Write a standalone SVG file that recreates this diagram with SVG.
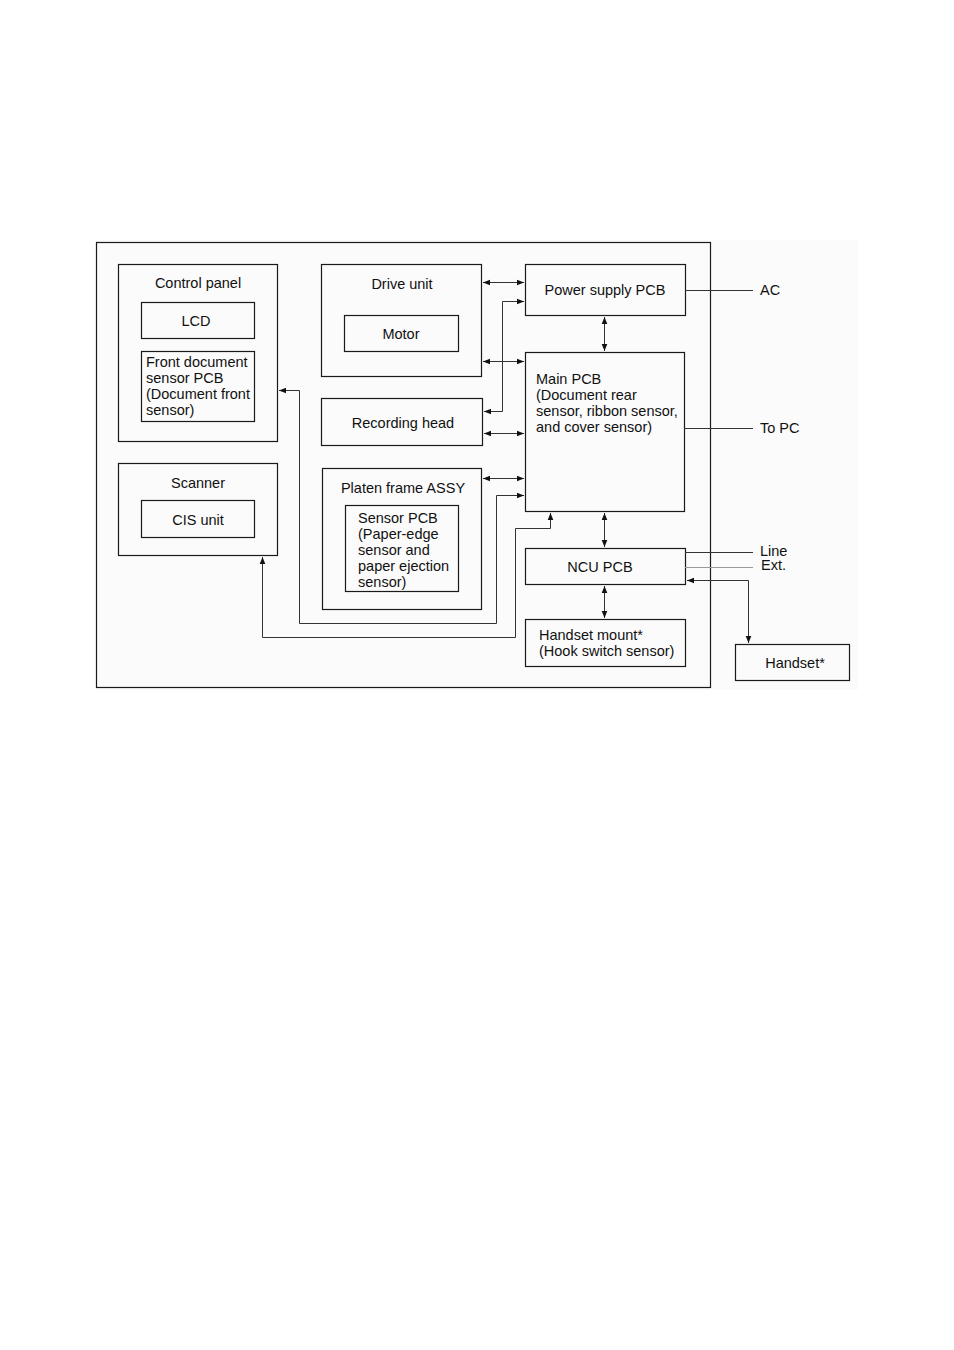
<svg xmlns="http://www.w3.org/2000/svg" width="954" height="1350" viewBox="0 0 954 1350">
<defs>
<marker id="ah" viewBox="0 0 10 10" refX="10" refY="5" markerWidth="7" markerHeight="7" markerUnits="userSpaceOnUse" orient="auto-start-reverse">
<path d="M0,1 L10,5 L0,9 Z" fill="#111"/>
</marker>
</defs>
<style>
.box{fill:none;stroke:#1a1a1a;stroke-width:1.2}
.ln{fill:none;stroke:#333;stroke-width:1}
.lg{fill:none;stroke:#999;stroke-width:1.2}
text{font-family:"Liberation Sans",Arial,sans-serif;font-size:14.5px;fill:#111}
.c{text-anchor:middle}
</style>
<rect x="0" y="0" width="954" height="1350" fill="#fff"/>
<rect x="96" y="240" width="762" height="450" fill="#fbfbfb"/>
<g id="outer"><rect class="box" x="96.5" y="242.5" width="614" height="445"/></g>

<g id="control-panel">
<rect class="box" x="118.5" y="264.5" width="159" height="177"/>
<text class="c" x="198" y="288">Control panel</text>
</g>
<g id="lcd">
<rect class="box" x="141.5" y="302.5" width="113" height="36"/>
<text class="c" x="196" y="326">LCD</text>
</g>
<g id="front-doc-sensor">
<rect class="box" x="141.5" y="351.5" width="113" height="70"/>
<text x="146" y="367">Front document</text>
<text x="146" y="383">sensor PCB</text>
<text x="146" y="399">(Document front</text>
<text x="146" y="415">sensor)</text>
</g>
<g id="scanner">
<rect class="box" x="118.5" y="463.5" width="159" height="92"/>
<text class="c" x="198" y="488">Scanner</text>
</g>
<g id="cis">
<rect class="box" x="141.5" y="500.5" width="113" height="37"/>
<text class="c" x="198" y="525">CIS unit</text>
</g>
<g id="drive-unit">
<rect class="box" x="321.5" y="264.5" width="160" height="112"/>
<text class="c" x="402" y="289">Drive unit</text>
</g>
<g id="motor">
<rect class="box" x="344.5" y="315.5" width="114" height="36"/>
<text class="c" x="401" y="339">Motor</text>
</g>
<g id="recording-head">
<rect class="box" x="321.5" y="398.5" width="161" height="47"/>
<text class="c" x="403" y="428">Recording head</text>
</g>
<g id="platen">
<rect class="box" x="322.5" y="468.5" width="159" height="141"/>
<text class="c" x="403" y="493">Platen frame ASSY</text>
</g>
<g id="sensor-pcb">
<rect class="box" x="345.5" y="505.5" width="113" height="86"/>
<text x="358" y="523">Sensor PCB</text>
<text x="358" y="539">(Paper-edge</text>
<text x="358" y="555">sensor and</text>
<text x="358" y="571">paper ejection</text>
<text x="358" y="587">sensor)</text>
</g>
<g id="power-supply">
<rect class="box" x="525.5" y="264.5" width="160" height="51"/>
<text class="c" x="605" y="295">Power supply PCB</text>
</g>
<g id="main-pcb">
<rect class="box" x="525.5" y="352.5" width="159" height="159"/>
<text x="536" y="384">Main PCB</text>
<text x="536" y="400">(Document rear</text>
<text x="536" y="416">sensor, ribbon sensor,</text>
<text x="536" y="432">and cover sensor)</text>
</g>
<g id="ncu">
<rect class="box" x="525.5" y="548.5" width="160" height="36"/>
<text class="c" x="600" y="572">NCU PCB</text>
</g>
<g id="handset-mount">
<rect class="box" x="525.5" y="619.5" width="160" height="47"/>
<text x="539" y="640">Handset mount*</text>
<text x="539" y="656">(Hook switch sensor)</text>
</g>
<g id="handset">
<rect class="box" x="735.5" y="644.5" width="114" height="36"/>
<text class="c" x="795" y="668">Handset*</text>
</g>

<g id="connectors">
<line class="ln" x1="685" y1="290.5" x2="753" y2="290.5"/>
<text x="760" y="295">AC</text>
<line class="ln" x1="684" y1="428.5" x2="753" y2="428.5"/>
<text x="760" y="433">To PC</text>
<line class="ln" x1="685" y1="552.5" x2="753" y2="552.5"/>
<text x="760" y="556">Line</text>
<line class="lg" x1="685" y1="567.5" x2="753" y2="567.5"/>
<text x="761" y="570">Ext.</text>
<path class="ln" d="M687,580.5 H748.5 V643" marker-start="url(#ah)" marker-end="url(#ah)"/>

<line class="ln" x1="604.5" y1="317" x2="604.5" y2="351" marker-start="url(#ah)" marker-end="url(#ah)"/>
<line class="ln" x1="604.5" y1="513" x2="604.5" y2="547" marker-start="url(#ah)" marker-end="url(#ah)"/>
<line class="ln" x1="604.5" y1="586" x2="604.5" y2="618" marker-start="url(#ah)" marker-end="url(#ah)"/>

<line class="ln" x1="483" y1="282.5" x2="524" y2="282.5" marker-start="url(#ah)" marker-end="url(#ah)"/>
<line class="ln" x1="483" y1="361.5" x2="524" y2="361.5" marker-start="url(#ah)" marker-end="url(#ah)"/>
<line class="ln" x1="484" y1="433.5" x2="524" y2="433.5" marker-start="url(#ah)" marker-end="url(#ah)"/>
<line class="ln" x1="483" y1="478.5" x2="524" y2="478.5" marker-start="url(#ah)" marker-end="url(#ah)"/>

<path class="ln" d="M524,301.5 H502.5 V411.5 H484" marker-start="url(#ah)" marker-end="url(#ah)"/>
<path class="ln" d="M524,495.5 H496.5 V623.5 H299.5 V390.5 H279" marker-start="url(#ah)" marker-end="url(#ah)"/>
<path class="ln" d="M550.5,513 V528.5 H515.5 V637.5 H262.5 V557"  marker-start="url(#ah)" marker-end="url(#ah)"/>
</g>
</svg>
